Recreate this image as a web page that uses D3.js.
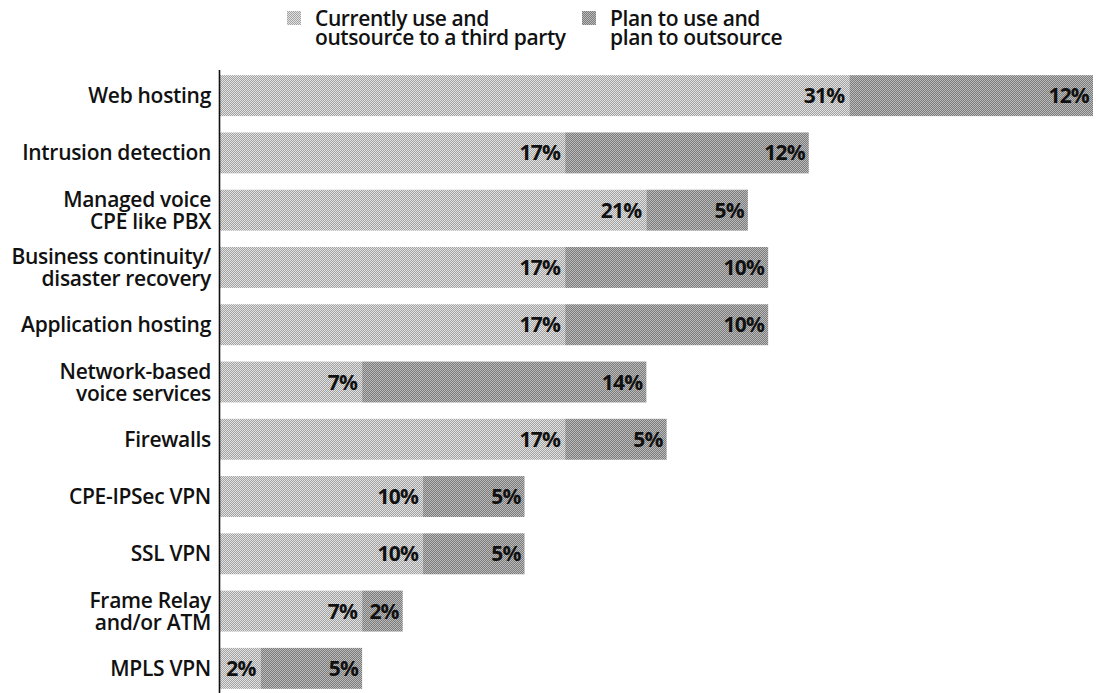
<!DOCTYPE html>
<html>
<head>
<meta charset="utf-8">
<script src="https://cdn.jsdelivr.net/npm/d3@7"></script>
<style>
  html, body { margin: 0; padding: 0; background: #fff; }
  svg { display: block; }
  text { font-family: "Open Sans", "Noto Sans", sans-serif; fill: #111; }
</style>
</head>
<body>
<svg id="chart" width="1096" height="693"></svg>
<script>
// Services, top to bottom
const categories = [
  "Web hosting",
  "Intrusion detection",
  "Managed voice\nCPE like PBX",
  "Business continuity/\ndisaster recovery",
  "Application hosting",
  "Network-based\nvoice services",
  "Firewalls",
  "CPE-IPSec VPN",
  "SSL VPN",
  "Frame Relay\nand/or ATM",
  "MPLS VPN"
];
// Percent of respondents
const currentUse = [31, 17, 21, 17, 17, 7, 17, 10, 10, 7, 2];
const planToUse  = [12, 12, 5, 10, 10, 14, 5, 5, 5, 2, 5];

const seriesNames = ["Currently use and\noutsource to a third party", "Plan to use and\nplan to outsource"];

const svg = d3.select("#chart");

// Halftone-style fills
const defs = svg.append("defs");
function checker(id, a, b) {
  const p = defs.append("pattern").attr("id", id)
    .attr("width", 2).attr("height", 2).attr("patternUnits", "userSpaceOnUse");
  p.append("rect").attr("width", 2).attr("height", 2).attr("fill", a);
  p.append("rect").attr("width", 1).attr("height", 1).attr("fill", b);
  p.append("rect").attr("x", 1).attr("y", 1).attr("width", 1).attr("height", 1).attr("fill", b);
}
checker("light", "#a2a2a2", "#e2e2e2");
checker("dark", "#7c7c7c", "#bababa");
const fills = ["url(#light)", "url(#dark)"];

const x = d3.scaleLinear().domain([0, 43]).range([220, 1093]);
const y = d3.scaleBand().domain(categories).range([67, 697])
  .paddingInner(0.285).paddingOuter(0.1425);

const rows = categories.map((c, i) => ({ cat: c, a: currentUse[i], b: planToUse[i] }));

const g = svg.append("g");
const row = g.selectAll("g.row").data(rows).join("g").attr("class", "row");

// current-use segment
row.append("rect")
  .attr("x", x(0)).attr("y", d => y(d.cat))
  .attr("width", d => x(d.a) - x(0)).attr("height", y.bandwidth())
  .attr("fill", fills[0]);
// planned segment
row.append("rect")
  .attr("x", d => x(d.a)).attr("y", d => y(d.cat))
  .attr("width", d => x(d.a + d.b) - x(d.a)).attr("height", y.bandwidth())
  .attr("fill", fills[1]);

// value labels, right-aligned inside each segment
const valStyle = s => s.attr("dy", "0.36em").attr("text-anchor", "end")
  .attr("font-size", 21).attr("font-weight", 700).attr("letter-spacing", -0.8);
row.append("text")
  .attr("x", d => x(d.a) - 5).attr("y", d => y(d.cat) + y.bandwidth() / 2)
  .call(valStyle)
  .text(d => d.a + "%");
row.append("text")
  .attr("x", d => x(d.a + d.b) - 4).attr("y", d => y(d.cat) + y.bandwidth() / 2)
  .call(valStyle)
  .text(d => d.b + "%");

// category labels
row.append("text")
  .attr("text-anchor", "end").attr("font-size", 21).attr("font-weight", 600)
  .attr("letter-spacing", -0.3)
  .each(function(d) {
    const lines = d.cat.split("\n");
    const cy = y(d.cat) + y.bandwidth() / 2;
    const lh = 22;
    lines.forEach((ln, k) => {
      d3.select(this).append("tspan")
        .attr("x", 211)
        .attr("y", cy + (k - (lines.length - 1) / 2) * lh)
        .attr("dy", "0.36em")
        .text(ln);
    });
  });

// vertical axis line
svg.append("line")
  .attr("x1", 219.5).attr("x2", 219.5).attr("y1", 70).attr("y2", 693)
  .attr("stroke", "#111").attr("stroke-width", 1.6);

// legend
const legendX = [287, 582];
seriesNames.forEach((name, i) => {
  const lg = svg.append("g").attr("transform", `translate(${legendX[i]},0)`);
  lg.append("rect").attr("x", 0).attr("y", 11).attr("width", 14).attr("height", 14)
    .attr("fill", fills[i]);
  const t = lg.append("text").attr("font-size", 21).attr("font-weight", 600)
    .attr("letter-spacing", -0.4);
  name.split("\n").forEach((ln, k) => {
    t.append("tspan").attr("x", 28).attr("y", 26 + k * 19).text(ln);
  });
});
</script>
</body>
</html>
